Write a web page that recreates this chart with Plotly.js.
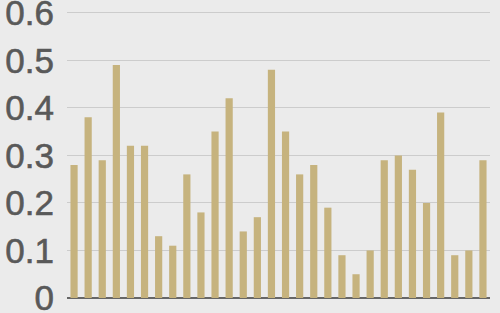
<!DOCTYPE html>
<html><head><meta charset="utf-8">
<script src="https://cdn.plot.ly/plotly-3.0.1.min.js"></script>
<style>html,body{margin:0;padding:0;background:#ebebeb;}#chart{width:500px;height:313px;}
.ytick text{stroke:#595959;stroke-width:0.6px;}</style>
</head><body><div id="chart"></div>
<script>
var categories = ["1","2","3","4","5","6","7","8","9","10","11","12","13","14","15","16","17","18","19","20","21","22","23","24","25","26","27","28","29","30"];
var values = [0.28,0.38,0.29,0.49,0.32,0.32,0.13,0.11,0.26,0.18,0.35,0.42,0.14,0.17,0.48,0.35,0.26,0.28,0.19,0.09,0.05,0.10,0.29,0.30,0.27,0.20,0.39,0.09,0.10,0.29];
var yTicks = [0,0.1,0.2,0.3,0.4,0.5,0.6];
var yTickText = ["0","0.1","0.2","0.3","0.4","0.5","0.6"];

Plotly.newPlot('chart', [{
  type: 'bar', x: categories, y: values,
  marker: {color: '#c6b37e'}, hoverinfo: 'none'
}], {
  width: 500, height: 313,
  paper_bgcolor: '#ebebeb', plot_bgcolor: '#ebebeb',
  margin: {l: 67, r: 10, t: 8, b: 15, pad: 0},
  bargap: 0.49,
  showlegend: false,
  xaxis: {showticklabels: false, showgrid: false, zeroline: false, showline: false, ticks: '', fixedrange: true},
  yaxis: {range: [0, 0.61], tickvals: yTicks, ticktext: yTickText,
    showgrid: true, gridcolor: '#cccccc', gridwidth: 1,
    zeroline: true, zerolinecolor: '#666666', zerolinewidth: 2,
    showline: false, ticks: 'outside', ticklen: 5, tickcolor: 'rgba(0,0,0,0)',
    ticklabeloverflow: 'allow',
    tickfont: {family: 'Liberation Sans, Arial, sans-serif', size: 35, color: '#595959'}}
}, {displayModeBar: false, staticPlot: true});
</script></body></html>
